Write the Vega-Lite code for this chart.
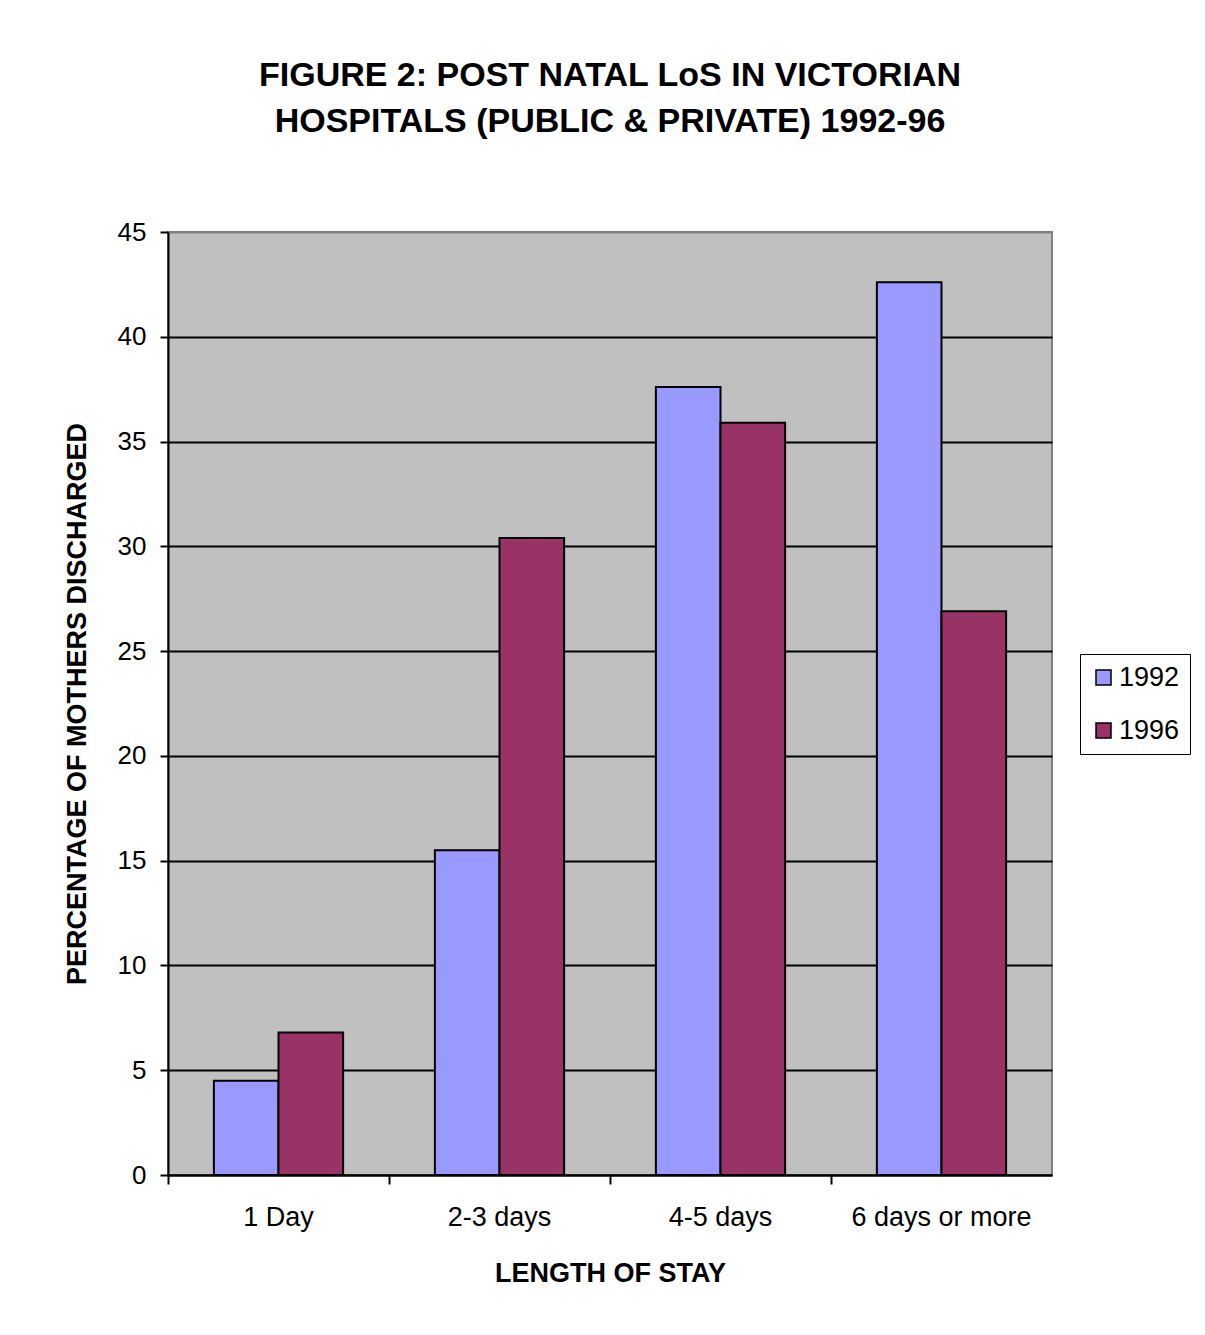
{
  "$schema": "https://vega.github.io/schema/vega-lite/v6.json",
  "autosize": "none",
  "width": 884,
  "height": 943,
  "padding": {"left": 168, "top": 232, "right": 153, "bottom": 160},
  "background": "white",
  "title": {
    "text": ["FIGURE 2: POST NATAL LoS IN VICTORIAN", "HOSPITALS (PUBLIC & PRIVATE) 1992-96"],
    "font": "Liberation Sans",
    "fontSize": 34,
    "fontWeight": "bold",
    "color": "black",
    "anchor": "middle",
    "lineHeight": 46,
    "offset": 80
  },
  "data": {
    "values": [
      {"stay": "1 Day", "year": "1992", "pct": 4.5},
      {"stay": "1 Day", "year": "1996", "pct": 6.8},
      {"stay": "2-3 days", "year": "1992", "pct": 15.5},
      {"stay": "2-3 days", "year": "1996", "pct": 30.4},
      {"stay": "4-5 days", "year": "1992", "pct": 37.6},
      {"stay": "4-5 days", "year": "1996", "pct": 35.9},
      {"stay": "6 days or more", "year": "1992", "pct": 42.6},
      {"stay": "6 days or more", "year": "1996", "pct": 26.9}
    ]
  },
  "mark": {"type": "bar", "stroke": "black", "strokeWidth": 2},
  "encoding": {
    "x": {
      "field": "stay",
      "type": "nominal",
      "sort": ["1 Day", "2-3 days", "4-5 days", "6 days or more"],
      "scale": {"paddingInner": 0, "paddingOuter": 0},
      "axis": {
        "title": "LENGTH OF STAY",
        "titleFont": "Liberation Sans",
        "titleFontSize": 27,
        "titleFontWeight": "bold",
        "titleColor": "black",
        "titlePadding": 30,
        "labelFont": "Liberation Sans",
        "labelFontSize": 27,
        "labelColor": "black",
        "labelAngle": 0,
        "labelPadding": 20,
        "labelLimit": 0,
        "bandPosition": 0,
        "tickSize": 9,
        "tickColor": "black",
        "tickWidth": 2,
        "domainColor": "black",
        "domainWidth": 2,
        "grid": false
      }
    },
    "xOffset": {
      "field": "year",
      "type": "nominal",
      "scale": {"paddingInner": 0, "paddingOuter": 0.71}
    },
    "y": {
      "field": "pct",
      "type": "quantitative",
      "scale": {"domain": [0, 45], "nice": false},
      "axis": {
        "title": "PERCENTAGE OF MOTHERS DISCHARGED",
        "titleFont": "Liberation Sans",
        "titleFontSize": 27,
        "titleFontWeight": "bold",
        "titleColor": "black",
        "titlePadding": 26,
        "labelFont": "Liberation Sans",
        "labelFontSize": 26,
        "labelColor": "black",
        "labelPadding": 14,
        "values": [0, 5, 10, 15, 20, 25, 30, 35, 40, 45],
        "tickSize": 8,
        "tickColor": "black",
        "tickWidth": 2,
        "domainColor": "black",
        "domainWidth": 2,
        "grid": true,
        "gridColor": {"condition": {"test": "datum.value == 45", "value": "#808080"}, "value": "black"},
        "gridWidth": 2
      }
    },
    "color": {
      "field": "year",
      "type": "nominal",
      "scale": {"domain": ["1992", "1996"], "range": ["#9999FF", "#993366"]},
      "legend": {
        "title": null,
        "orient": "none",
        "legendX": 912,
        "legendY": 422,
        "direction": "vertical",
        "strokeColor": "black",
        "fillColor": "white",
        "padding": 10,
        "symbolType": "square",
        "symbolSize": 225,
        "symbolStrokeColor": "black",
        "symbolStrokeWidth": 1.5,
        "labelFont": "Liberation Sans",
        "labelFontSize": 27,
        "labelColor": "black",
        "rowPadding": 25,
        "labelOffset": 2
      }
    }
  },
  "config": {
    "view": {"fill": "#C0C0C0", "stroke": "#808080", "strokeWidth": 2}
  }
}
